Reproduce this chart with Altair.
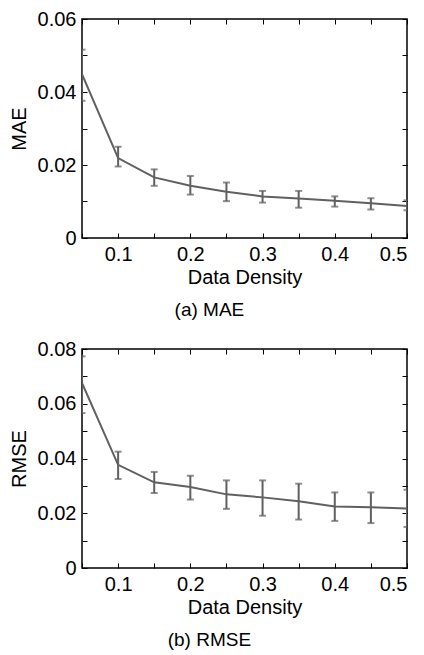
import altair as alt
import pandas as pd

density = [0.05, 0.10, 0.15, 0.20, 0.25, 0.30, 0.35, 0.40, 0.45, 0.50]

mae_mean = [0.0449, 0.0219, 0.0166, 0.0143, 0.0127, 0.0114, 0.0108, 0.0102, 0.0095, 0.0088]
mae_hi   = [0.0516, 0.0250, 0.0188, 0.0170, 0.0152, 0.0129, 0.0129, 0.0114, 0.0109, 0.0103]
mae_lo   = [0.0376, 0.0196, 0.0143, 0.0119, 0.0101, 0.0097, 0.0083, 0.0086, 0.0078, 0.0076]

rmse_mean = [0.0676, 0.0377, 0.0313, 0.0296, 0.0269, 0.0258, 0.0244, 0.0225, 0.0222, 0.0217]
rmse_hi   = [0.0773, 0.0425, 0.0351, 0.0337, 0.0320, 0.0320, 0.0308, 0.0276, 0.0276, 0.0286]
rmse_lo   = [0.0566, 0.0325, 0.0274, 0.0250, 0.0216, 0.0191, 0.0177, 0.0172, 0.0164, 0.0150]

x_ticks = [0.05, 0.10, 0.15, 0.20, 0.25, 0.30, 0.35, 0.40, 0.45, 0.50]
x_labels = [0.1, 0.2, 0.3, 0.4, 0.5]

FONT = "Liberation Sans"
GRAY = "#606060"
W, H = 325, 219


def panel(mean, lo, hi, ymax, ylabel_step, ytitle, caption):
    df = pd.DataFrame({"x": density, "m": mean, "lo": lo, "hi": hi})
    y_ticks = [round(i * 0.01, 2) for i in range(int(round(ymax / 0.01)) + 1)]
    y_labels = [round(i * ylabel_step, 2) for i in range(int(round(ymax / ylabel_step)) + 1)]
    xs = alt.Scale(domain=[0.05, 0.5], nice=False, zero=False)
    ys = alt.Scale(domain=[0, ymax], nice=False)
    base = alt.Chart(df)

    # layer with labels and titles
    line = base.mark_line(color=GRAY, strokeWidth=2, clip=True).encode(
        x=alt.X("x:Q", scale=xs, title="Data Density",
                axis=alt.Axis(values=x_labels, format="~g", ticks=False, domain=False,
                              grid=False, labelPadding=6, titlePadding=3)),
        y=alt.Y("m:Q", scale=ys, title=ytitle,
                axis=alt.Axis(values=y_labels, format="~g", ticks=False, domain=False,
                              grid=False, labelPadding=6, titlePadding=8)),
    )
    rule = base.mark_rule(color=GRAY, strokeWidth=2, clip=True).encode(
        x=alt.X("x:Q", scale=xs, axis=None),
        y=alt.Y("lo:Q", scale=ys, axis=None),
        y2="hi:Q",
    )
    cap_lo = base.mark_tick(color=GRAY, orient="horizontal", size=7, thickness=2, clip=True).encode(
        x=alt.X("x:Q", scale=xs, axis=None),
        y=alt.Y("lo:Q", scale=ys, axis=None),
    )
    cap_hi = base.mark_tick(color=GRAY, orient="horizontal", size=7, thickness=2, clip=True).encode(
        x=alt.X("x:Q", scale=xs, axis=None),
        y=alt.Y("hi:Q", scale=ys, axis=None),
    )
    # inward ticks, bottom/left
    tick_bl = base.mark_point(opacity=0).encode(
        x=alt.X("x:Q", scale=xs, title=None,
                axis=alt.Axis(values=x_ticks, labels=False, domain=False, grid=False,
                              tickSize=5, offset=-5, orient="bottom")),
        y=alt.Y("m:Q", scale=ys, title=None,
                axis=alt.Axis(values=y_ticks, labels=False, domain=False, grid=False,
                              tickSize=5, offset=-5, orient="left")),
    )
    # inward ticks, top/right
    tick_tr = base.mark_point(opacity=0).encode(
        x=alt.X("x:Q", scale=xs, title=None,
                axis=alt.Axis(values=x_ticks, labels=False, domain=False, grid=False,
                              tickSize=5, offset=-5, orient="top")),
        y=alt.Y("m:Q", scale=ys, title=None,
                axis=alt.Axis(values=y_ticks, labels=False, domain=False, grid=False,
                              tickSize=5, offset=-5, orient="right")),
    )
    return alt.layer(line, rule, cap_lo, cap_hi, tick_bl, tick_tr).resolve_axis(
        x="independent", y="independent"
    ).properties(
        width=W, height=H,
        title=alt.TitleParams(caption, orient="bottom", anchor="middle", frame="bounds",
                              fontSize=19, fontWeight="normal", font=FONT, color="black",
                              offset=14),
    )


top = panel(mae_mean, mae_lo, mae_hi, 0.06, 0.02, "MAE", "(a) MAE")
bottom = panel(rmse_mean, rmse_lo, rmse_hi, 0.08, 0.02, "RMSE", "(b) RMSE")

chart = alt.vconcat(top, bottom, spacing=17).properties(
    padding={"left": 0, "top": 0, "right": 5, "bottom": 0}
).configure_view(
    stroke="black", strokeWidth=1.5
).configure_axis(
    labelFont=FONT, titleFont=FONT, labelFontSize=20, titleFontSize=20,
    labelColor="black", titleColor="black", tickColor="black", tickWidth=1,
    titleFontWeight="normal",
)

chart.save("out.html", embed_options={"renderer": "svg", "actions": False})
